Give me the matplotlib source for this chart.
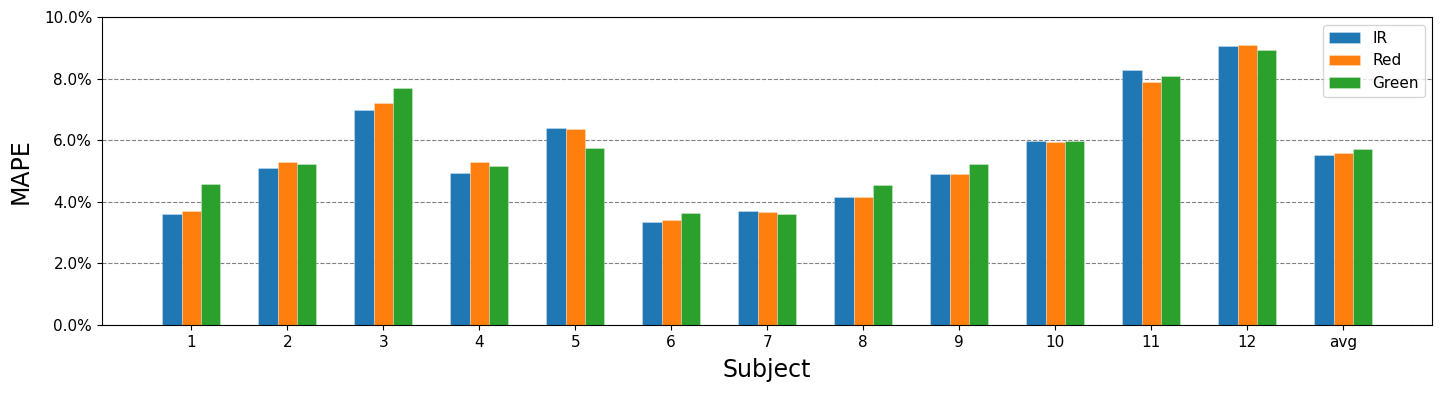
import numpy as np
import matplotlib
matplotlib.use("Agg")
import matplotlib.pyplot as plt
from matplotlib.ticker import PercentFormatter

subjects = ['1', '2', '3', '4', '5', '6', '7', '8', '9', '10', '11', '12', 'avg']
ir = [3.59, 5.08, 6.98, 4.94, 6.40, 3.33, 3.71, 4.14, 4.91, 5.96, 8.29, 9.05, 5.53]
red = [3.70, 5.28, 7.22, 5.29, 6.36, 3.41, 3.66, 4.14, 4.90, 5.95, 7.89, 9.09, 5.57]
green = [4.57, 5.24, 7.69, 5.16, 5.76, 3.63, 3.61, 4.53, 5.23, 5.98, 8.07, 8.93, 5.70]

x = np.arange(len(subjects))
w = 0.2

fig = plt.figure(figsize=(14.44, 3.93), dpi=100)
ax = fig.add_subplot(111)
fig.subplots_adjust(left=0.0706, right=0.992, bottom=0.173, top=0.957)

edge = (1, 1, 1, 0.5)
ax.bar(x - w, ir, w, label='IR', color='tab:blue', edgecolor=edge, linewidth=0.4)
ax.bar(x, red, w, label='Red', color='tab:orange', edgecolor=edge, linewidth=0.4)
ax.bar(x + w, green, w, label='Green', color='tab:green', edgecolor=edge, linewidth=0.4)

ax.set_ylim(0, 10)
ax.yaxis.set_major_formatter(PercentFormatter(100, decimals=1))
ax.set_xticks(x)
ax.set_xticklabels(subjects)
ax.tick_params(labelsize=11)
ax.set_axisbelow(True)
ax.grid(axis='y', linestyle='--', color='gray')

ax.set_xlabel('Subject', fontsize=17, labelpad=6)
ax.set_ylabel('MAPE', fontsize=17, labelpad=8)
ax.legend(loc='upper right', fontsize=11)

plt.savefig('out.png', dpi=100)
